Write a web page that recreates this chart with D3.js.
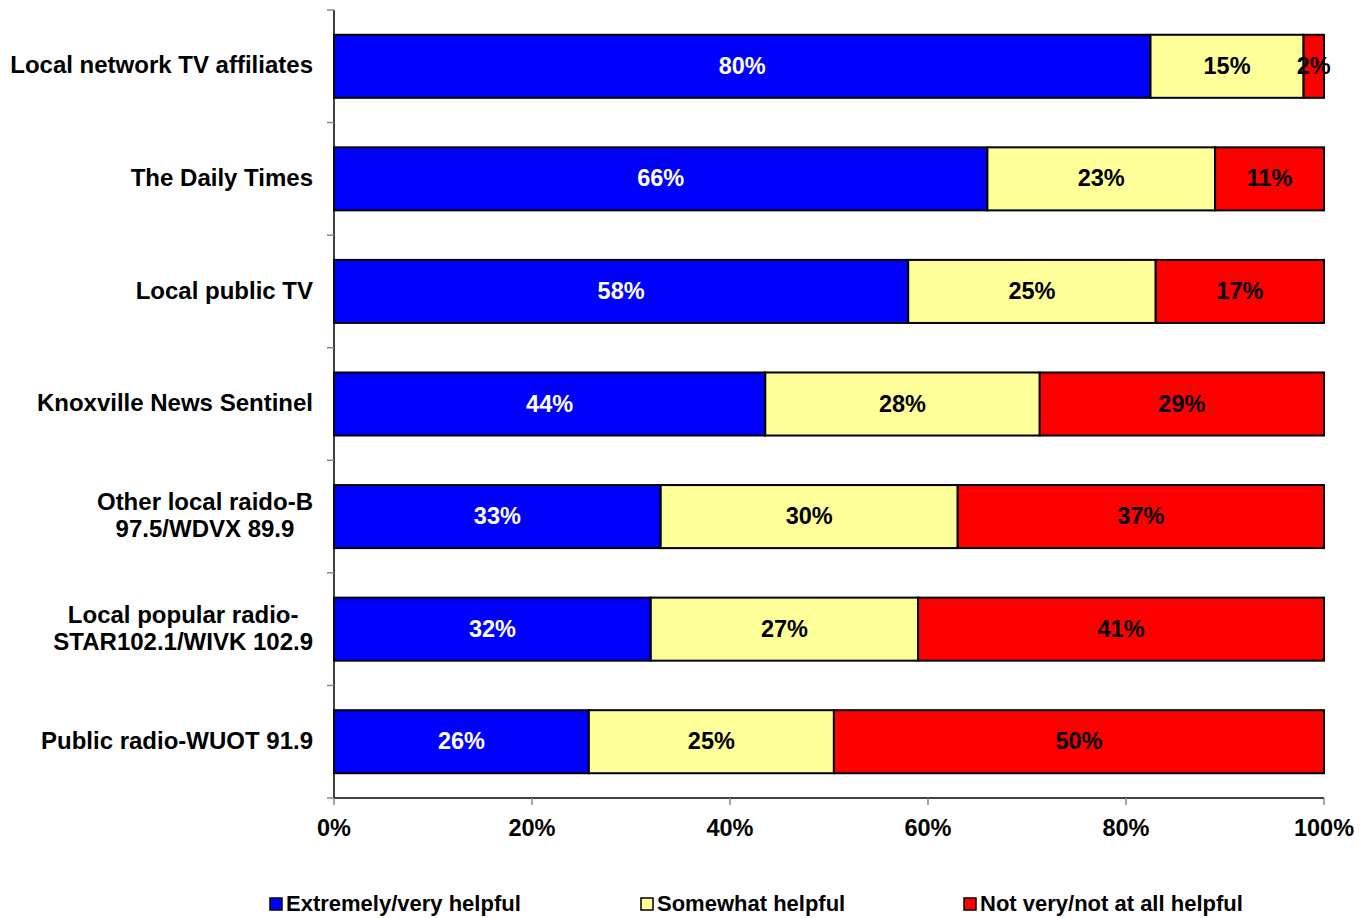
<!DOCTYPE html>
<html><head><meta charset="utf-8">
<script src="https://cdn.jsdelivr.net/npm/d3@7"></script>
<style>body{margin:0;background:#fff}svg{display:block;font-family:"Liberation Sans",Arial,sans-serif;font-weight:bold}</style>
</head><body>
<svg id="c" width="1372" height="918"></svg>
<script>
const categories = [
  ["Local network TV affiliates"],
  ["The Daily Times"],
  ["Local public TV"],
  ["Knoxville News Sentinel"],
  ["Other local raido-B", "97.5/WDVX 89.9"],
  ["Local popular radio-", "STAR102.1/WIVK 102.9"],
  ["Public radio-WUOT 91.9"]
];
const seriesNames = ["Extremely/very helpful", "Somewhat helpful", "Not very/not at all helpful"];
const extremely = [80, 66, 58, 44, 33, 32, 26];
const somewhat  = [15, 23, 25, 28, 30, 27, 25];
const notVery   = [2, 11, 17, 29, 37, 41, 50];
const colors = ["#0000ff", "#ffff99", "#ff0000"];
const textColors = ["#ffffff", "#000000", "#000000"];
const xTicks = [0, 0.2, 0.4, 0.6, 0.8, 1.0];

const svg = d3.select("#c");
const L = 334, R = 1324, T = 10, B = 798;
const x = d3.scaleLinear().domain([0, 1]).range([L, R]);
const y = d3.scaleBand().domain(d3.range(categories.length)).range([T, B]).paddingInner(0.44).paddingOuter(0.22);

const series = [extremely, somewhat, notVery];
const rows = categories.map((c, i) => {
  const vals = series.map(s => s[i]);
  const tot = d3.sum(vals);
  let acc = 0;
  return vals.map((v, k) => { const s0 = acc / tot; acc += v; return {i, k, v, x0: s0, x1: acc / tot}; });
});

// bars
const g = svg.append("g");
rows.forEach(r => r.forEach(d => {
  g.append("rect")
    .attr("x", x(d.x0)).attr("y", y(d.i))
    .attr("width", x(d.x1) - x(d.x0)).attr("height", y.bandwidth())
    .attr("fill", colors[d.k]).attr("stroke", "#000").attr("stroke-width", 2);
}));
rows.forEach(r => r.forEach(d => {
  g.append("text")
    .attr("x", (x(d.x0) + x(d.x1)) / 2).attr("y", y(d.i) + y.bandwidth() / 2)
    .attr("dy", "0.32em").attr("text-anchor", "middle")
    .attr("font-size", 23.5).attr("fill", textColors[d.k])
    .text(d.v + "%");
}));

// y axis
const yb = d3.scaleLinear().domain([0, categories.length]).range([T, B]);
svg.append("line").attr("x1", L).attr("x2", L).attr("y1", T).attr("y2", B).attr("stroke", "#000").attr("stroke-width", 1.5);
d3.range(categories.length + 1).forEach(i => {
  svg.append("line").attr("x1", L - 7).attr("x2", L).attr("y1", yb(i)).attr("y2", yb(i)).attr("stroke", "#888").attr("stroke-width", 1.5);
});
categories.forEach((lines, i) => {
  const cy = y(i) + y.bandwidth() / 2;
  const t = svg.append("text").attr("text-anchor", "middle").attr("font-size", 24).attr("fill", "#000");
  const n = lines.length;
  lines.forEach((s, j) => {
    t.append("tspan").attr("x", 0).attr("y", cy + (j - (n - 1) / 2) * 27).attr("dy", "0.3em").text(s);
  });
  const bb = t.node().getBBox();
  t.attr("transform", `translate(${313 - (bb.x + bb.width)},0)`);
});

// x axis
svg.append("line").attr("x1", L).attr("x2", R).attr("y1", B).attr("y2", B).attr("stroke", "#000").attr("stroke-width", 1.5);
xTicks.forEach(t => {
  svg.append("line").attr("x1", x(t)).attr("x2", x(t)).attr("y1", B).attr("y2", B + 7).attr("stroke", "#888").attr("stroke-width", 1.5);
  svg.append("text").attr("x", x(t)).attr("y", B + 30).attr("dy", "0.34em").attr("text-anchor", "middle")
    .attr("font-size", 23.5).attr("fill", "#000").text(d3.format(".0%")(t));
});

// legend
const legX = [270, 641, 964];
seriesNames.forEach((s, k) => {
  svg.append("rect").attr("x", legX[k]).attr("y", 898).attr("width", 12).attr("height", 12)
    .attr("fill", colors[k]).attr("stroke", "#000").attr("stroke-width", 1.5);
  svg.append("text").attr("x", legX[k] + 16).attr("y", 904).attr("dy", "0.34em").attr("font-size", 22).attr("fill", "#000").text(s);
});
</script>
</body></html>
